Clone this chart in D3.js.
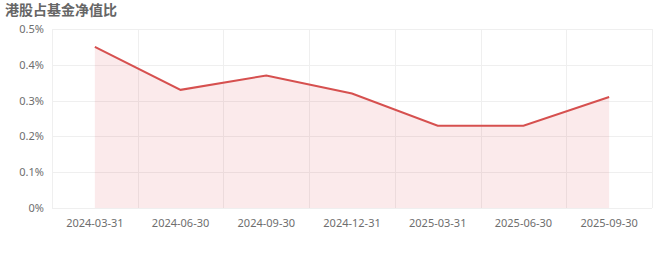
<!DOCTYPE html>
<html lang="zh">
<head>
<meta charset="utf-8">
<title>港股占基金净值比</title>
<script src="https://d3js.org/d3.v7.min.js"></script>
<style>
  body { margin: 0; background: #fff; font-family: "Noto Sans CJK SC", "Noto Sans", sans-serif; }
  .grid line { stroke: #efefef; stroke-width: 1; }
  .tick text { fill: #6e6e6e; font-size: 11px; font-family: "Noto Sans", sans-serif; }
</style>
</head>
<body>
<script>
// data
var dates = ["2024-03-31", "2024-06-30", "2024-09-30", "2024-12-31", "2025-03-31", "2025-06-30", "2025-09-30"];
var ratio = [0.45, 0.33, 0.37, 0.32, 0.23, 0.23, 0.31];
var yTicks = [0, 0.1, 0.2, 0.3, 0.4, 0.5];

var width = 660, height = 255;
var margin = {top: 29, right: 8, bottom: 47, left: 52};
var w = width - margin.left - margin.right,
    h = height - margin.top - margin.bottom;

var svg = d3.select("body").append("svg")
    .attr("width", width)
    .attr("height", height);

svg.append("text")
    .attr("x", 5)
    .attr("y", 15)
    .style("font-size", "14px")
    .style("font-weight", "bold")
    .style("fill", "#666")
    .text("港股占基金净值比");

var g = svg.append("g")
    .attr("transform", "translate(" + margin.left + "," + margin.top + ")");

var x = d3.scaleBand().domain(dates).range([0, w]);
var y = d3.scaleLinear().domain([0, 0.5]).range([h, 0]);

// grid
var grid = g.append("g").attr("class", "grid");
grid.selectAll(".hl").data(yTicks).enter().append("line")
    .attr("x1", 0).attr("x2", w)
    .attr("y1", function(d) { return Math.round(y(d)) + 0.5; })
    .attr("y2", function(d) { return Math.round(y(d)) + 0.5; });
var bounds = dates.map(function(d) { return x(d); }).concat([w]);
grid.selectAll(".vl").data(bounds).enter().append("line")
    .attr("x1", function(d) { return Math.round(d) + 0.5; })
    .attr("x2", function(d) { return Math.round(d) + 0.5; })
    .attr("y1", 0).attr("y2", h);

var cx = function(d, i) { return x(dates[i]) + x.bandwidth() / 2; };

var area = d3.area()
    .x(cx)
    .y0(h)
    .y1(function(d) { return y(d); });

var line = d3.line()
    .x(cx)
    .y(function(d) { return y(d); });

g.append("path")
    .datum(ratio)
    .attr("d", area)
    .style("fill", "#d9434a")
    .style("fill-opacity", 0.11);

g.append("path")
    .datum(ratio)
    .attr("d", line)
    .style("fill", "none")
    .style("stroke", "#d6504f")
    .style("stroke-width", 2);

// axes
var xAxis = g.append("g")
    .attr("transform", "translate(0," + h + ")")
    .call(d3.axisBottom(x).tickSize(0).tickPadding(11));
xAxis.select(".domain").remove();

var yAxis = g.append("g")
    .call(d3.axisLeft(y).tickValues(yTicks).tickSize(0).tickPadding(8)
        .tickFormat(function(d) { return d3.format(".1~f")(d) + "%"; }));
yAxis.select(".domain").remove();
</script>
</body>
</html>
